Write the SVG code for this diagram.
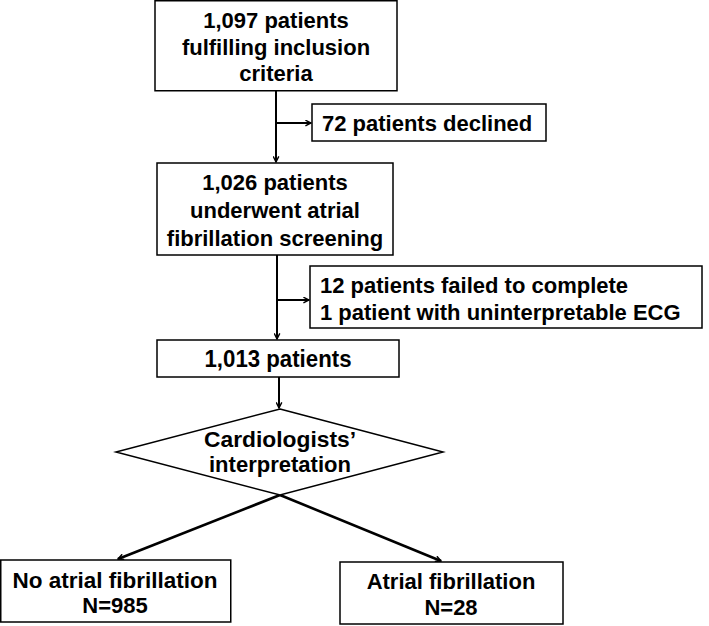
<svg xmlns="http://www.w3.org/2000/svg" width="709" height="626" viewBox="0 0 709 626">
<style>
.box{fill:#fff;stroke:#000;stroke-width:1.5}
.t{font-family:"Liberation Sans",Arial,sans-serif;font-weight:bold;font-size:22px;fill:#000}
.c{text-anchor:middle}
.ln{stroke:#000;stroke-width:2;fill:none}
.lt{stroke:#000;stroke-width:2.6;fill:none}
</style>
<defs>
<marker id="ah" viewBox="0 0 10 10" refX="9" refY="5" markerWidth="7" markerHeight="7" markerUnits="userSpaceOnUse" orient="auto">
<path d="M1,1 L9,5 L1,9" fill="none" stroke="#000" stroke-width="2"/>
</marker>
<marker id="ah2" viewBox="0 0 10 10" refX="9" refY="5" markerWidth="7" markerHeight="7" markerUnits="userSpaceOnUse" orient="auto">
<path d="M1,1 L9,5 L1,9" fill="none" stroke="#000" stroke-width="2"/>
</marker>
</defs>
<g id="connectors">
<line class="ln" x1="276" y1="91" x2="276" y2="162" marker-end="url(#ah)"/>
<line class="ln" x1="276" y1="123" x2="311" y2="123" marker-end="url(#ah)"/>
<line class="ln" x1="277" y1="255" x2="277" y2="339" marker-end="url(#ah)"/>
<line class="ln" x1="277" y1="300" x2="309" y2="300" marker-end="url(#ah)"/>
<line class="ln" x1="279" y1="377" x2="279" y2="408" marker-end="url(#ah)"/>
<line class="lt" x1="280" y1="495" x2="118" y2="559" marker-end="url(#ah2)"/>
<line class="lt" x1="280" y1="495" x2="441" y2="561" marker-end="url(#ah2)"/>
</g>
<g id="n1">
<rect class="box" x="155" y="0.75" width="242" height="90"/>
<text class="t c" x="276" y="28">1,097 patients</text>
<text class="t c" x="276" y="55">fulfilling inclusion</text>
<text class="t c" x="276" y="81">criteria</text>
</g>
<g id="n2">
<rect class="box" x="312" y="104" width="234" height="37"/>
<text class="t" x="322" y="131">72 patients declined</text>
</g>
<g id="n3">
<rect class="box" x="157" y="163" width="236" height="92"/>
<text class="t c" x="275" y="190">1,026 patients</text>
<text class="t c" x="275" y="218">underwent atrial</text>
<text class="t c" x="275" y="246">fibrillation screening</text>
</g>
<g id="n4">
<rect class="box" x="310" y="266" width="392" height="62"/>
<text class="t" x="320" y="293">12 patients failed to complete</text>
<text class="t" x="320" y="320">1 patient with uninterpretable ECG</text>
</g>
<g id="n5">
<rect class="box" x="157" y="340" width="242" height="37"/>
<text class="t c" x="278" y="367" style="font-size:23px" textLength="147" lengthAdjust="spacingAndGlyphs">1,013 patients</text>
</g>
<g id="n6">
<polygon class="box" points="280,409 443,452 280,495 116,452"/>
<text class="t c" x="280" y="447" textLength="152" lengthAdjust="spacingAndGlyphs">Cardiologists’</text>
<text class="t c" x="280" y="472" textLength="142" lengthAdjust="spacingAndGlyphs">interpretation</text>
</g>
<g id="n7">
<rect class="box" x="0.75" y="560" width="230" height="62"/>
<text class="t c" x="115" y="588" textLength="205" lengthAdjust="spacingAndGlyphs">No atrial fibrillation</text>
<text class="t c" x="115" y="613">N=985</text>
</g>
<g id="n8">
<rect class="box" x="340" y="562" width="223" height="62"/>
<text class="t c" x="451" y="589">Atrial fibrillation</text>
<text class="t c" x="451" y="615">N=28</text>
</g>
</svg>
